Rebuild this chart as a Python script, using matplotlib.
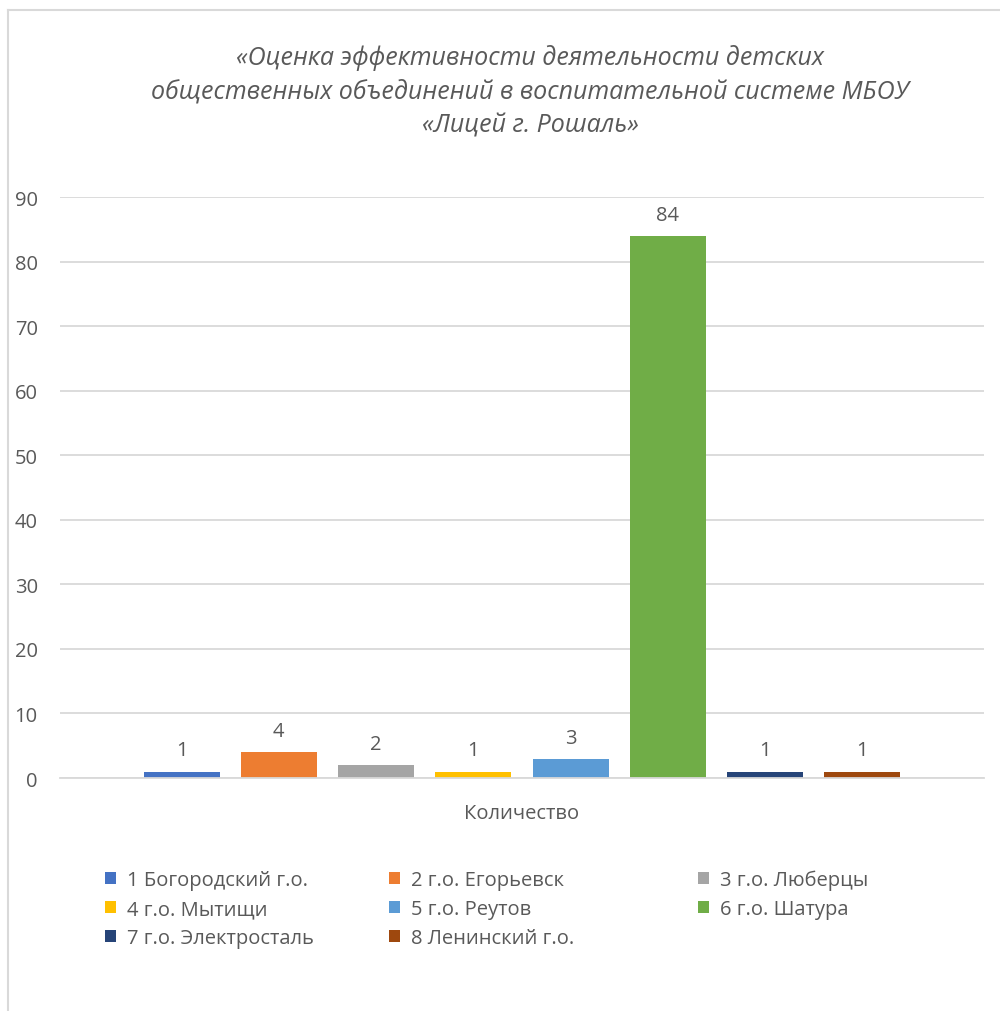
import matplotlib.pyplot as plt
from matplotlib.lines import Line2D
from matplotlib.patches import Patch
import numpy as np

plt.rcParams['font.family'] = ['Open Sans', 'DejaVu Sans']

labels = ['1 Богородский г.о.', '2 г.о. Егорьевск', '3 г.о. Люберцы', '4 г.о. Мытищи',
          '5 г.о. Реутов', '6 г.о. Шатура', '7 г.о. Электросталь', '8 Ленинский г.о.']
values = [1, 4, 2, 1, 3, 84, 1, 1]
colors = ['#4472C4', '#ED7D31', '#A5A5A5', '#FFC000', '#5B9BD5', '#70AD47', '#264478', '#9E480E']
category = 'Количество'
title = ('«Оценка эффективности деятельности детских\n'
         'общественных объединений в воспитательной системе МБОУ\n'
         '«Лицей г. Рошаль»')

text_color = '#595959'
grid_color = '#D9D9D9'

fig = plt.figure(figsize=(10, 10.12), dpi=100)
ax = fig.add_axes([0.06, 0.2302, 0.924, 0.5741])

x_pos = np.arange(len(values))
bars = ax.bar(x_pos, values, width=0.78, color=colors)
ax.bar_label(bars, labels=[str(v) for v in values], padding=8, fontsize=14.5, color=text_color)

ax.set_xlim(-1.25, 8.25)
ax.set_ylim(0, 90)
ax.set_yticks(np.arange(0, 91, 10))
ax.set_xticks([3.5])
ax.set_xticklabels([category])
ax.tick_params(axis='y', length=0, pad=16, labelsize=14.5, labelcolor=text_color)
ax.tick_params(axis='x', length=0, pad=18, labelsize=14.5, labelcolor=text_color)
ax.yaxis.grid(True, color=grid_color, linewidth=1.3)
ax.set_axisbelow(True)
for side in ['top', 'right', 'left']:
    ax.spines[side].set_visible(False)
ax.spines['bottom'].set_color(grid_color)
ax.spines['bottom'].set_linewidth(1.3)

fig.text(0.53, 0.956, title, ha='center', va='top', fontsize=18, style='italic',
         color=text_color, linespacing=1.47)

# legend: three columns, row by row
handles = [Patch(facecolor=c) for c in colors]
col_x = [0.105, 0.389, 0.698]
for j in range(3):
    idx = list(range(j, len(values), 3))
    fig.legend([handles[i] for i in idx], [labels[i] for i in idx],
               loc='upper left', bbox_to_anchor=(col_x[j], 0.1395), frameon=False,
               fontsize=14.5, labelcolor=text_color, handlelength=0.55, handleheight=0.55,
               handletextpad=0.55, labelspacing=0.45, borderaxespad=0, borderpad=0)

# outer frame
fig.add_artist(Line2D([0.008, 0.008], [0, 1 - 11 / 1012], color=grid_color, linewidth=1.5))
fig.add_artist(Line2D([0.008, 1], [1 - 11 / 1012, 1 - 11 / 1012], color=grid_color, linewidth=1.5))

fig.savefig('out.png', dpi=100)
